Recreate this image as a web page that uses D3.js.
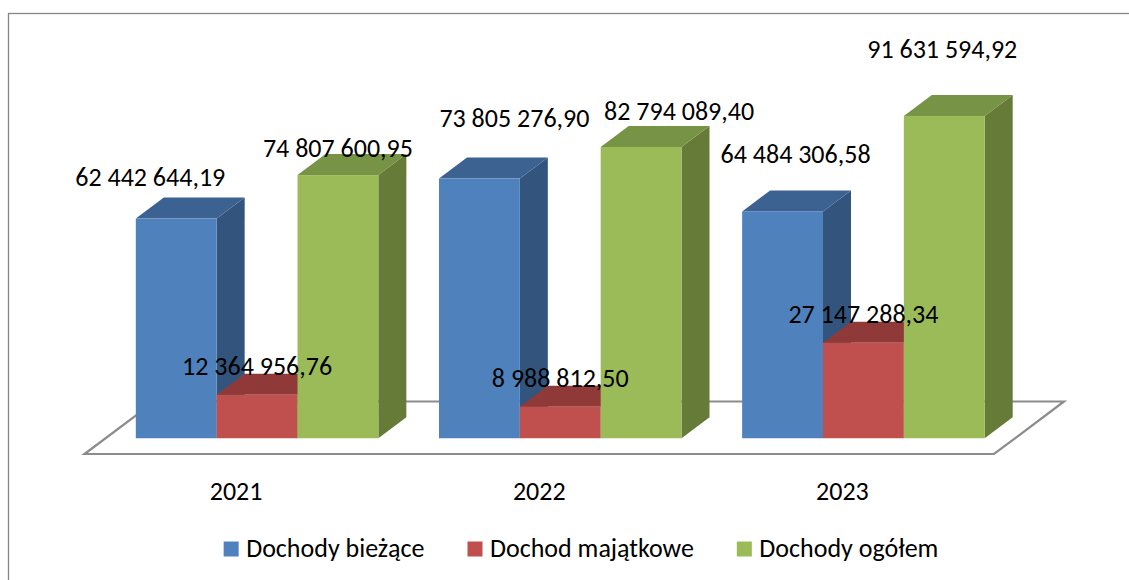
<!DOCTYPE html>
<html>
<head>
<meta charset="utf-8">
<script src="https://cdn.jsdelivr.net/npm/d3@7"></script>
<style>
  body { margin: 0; background: #fff; }
  svg text { font-family: Carlito, Calibri, Lato, sans-serif; fill: #000; }
</style>
</head>
<body>
<svg width="1129" height="580"></svg>
<script>
"use strict";

// data
const years = ["2021", "2022", "2023"];
const seriesNames = ["Dochody bieżące", "Dochod majątkowe", "Dochody ogółem"];
const dochodyBiezace = [62442644.19, 73805276.90, 64484306.58];
const dochodMajatkowe = [12364956.76, 8988812.50, 27147288.34];
const dochodyOgolem = [74807600.95, 82794089.40, 91631594.92];

// colours: front, top, side
const faceColors = [
    ["#4f81bd", "#3c6292", "#33557d"],
    ["#c0504d", "#8f3a38", "#7e3230"],
    ["#9bbb59", "#779345", "#657b37"]
];

// manual nudges of the value labels, the way they were dragged in the original
const labelNudge = [
    [[-26, -13], [35, -32], [13, -28]],
    [[0, 0], [0, 0], [0, 0]],
    [[0, 2], [38, -7], [-2, -38]]
];

const allSeries = [dochodyBiezace, dochodMajatkowe, dochodyOgolem];

let svg = d3.select("svg");
let fontSize = 26;

let plFormat = d3.formatLocale({ decimal: ",", thousands: " ", grouping: [3], currency: ["", ""] }).format(",.2f");

// projected depth of one bar
let depth = { dx: 28, dy: -21 };

// floor front edge
let floorLeft = 84.5, floorRight = 994, floorFront = 454;
let frontGap = 0.75;   // bars sit 0.75 bar-depths behind the floor edge
let floorDepth = 2.5;

// chart border
svg.append("rect")
    .attr("x", 8.5).attr("y", 13.5)
    .attr("width", 1140).attr("height", 600)
    .attr("fill", "none")
    .attr("stroke", "#868686")
    .attr("stroke-width", 1.3);

let baseY = floorFront + frontGap * depth.dy;

let x0 = d3.scaleBand()
    .domain(years)
    .range([floorLeft + frontGap * depth.dx, floorRight + frontGap * depth.dx])
    .paddingInner(0.2)
    .paddingOuter(0.1);

let x1 = d3.scaleBand().domain(seriesNames).range([0, x0.bandwidth()]).padding(0);

let y = d3.scaleLinear().domain([0, 100000000]).range([baseY, baseY - 351.8]);

// floor
let fdx = floorDepth * depth.dx, fdy = floorDepth * depth.dy;
svg.append("path")
    .attr("d", "M" + floorLeft + "," + floorFront +
               "L" + floorRight + "," + floorFront +
               "L" + (floorRight + fdx) + "," + (floorFront + fdy) +
               "L" + (floorLeft + fdx) + "," + (floorFront + fdy) + "Z")
    .attr("fill", "#fff")
    .attr("stroke", "#8c8c8c")
    .attr("stroke-width", 2.2)
    .attr("stroke-linejoin", "miter");

// bars, painted left to right so later fronts hide earlier sides
let bars = [];
years.forEach(function (yr, i) {
    seriesNames.forEach(function (s, j) {
        bars.push({ year: yr, series: s, si: j, yi: i, value: allSeries[j][i] });
    });
});

let barG = svg.append("g").attr("class", "bars");

bars.forEach(function (d) {
    let xl = x0(d.year) + x1(d.series),
        xr = xl + x1.bandwidth(),
        yt = y(d.value),
        yb = y(0),
        c = faceColors[d.si];
    let g = barG.append("g");
    // side
    g.append("path")
        .attr("d", "M" + xr + "," + yt + "L" + (xr + depth.dx) + "," + (yt + depth.dy) +
                   "L" + (xr + depth.dx) + "," + (yb + depth.dy) + "L" + xr + "," + yb + "Z")
        .attr("fill", c[2]);
    // top
    g.append("path")
        .attr("d", "M" + xl + "," + yt + "L" + xr + "," + yt +
                   "L" + (xr + depth.dx) + "," + (yt + depth.dy) + "L" + (xl + depth.dx) + "," + (yt + depth.dy) + "Z")
        .attr("fill", c[1]);
    // front
    g.append("rect")
        .attr("x", xl).attr("y", yt)
        .attr("width", x1.bandwidth()).attr("height", yb - yt)
        .attr("fill", c[0]);
});

// value labels
svg.append("g").attr("class", "labels")
    .selectAll("text")
    .data(bars)
    .enter().append("text")
    .attr("x", function (d) {
        return x0(d.year) + x1(d.series) + x1.bandwidth() / 2 + labelNudge[d.si][d.yi][0];
    })
    .attr("y", function (d) {
        return y(d.value) + depth.dy + 1 + labelNudge[d.si][d.yi][1];
    })
    .attr("text-anchor", "middle")
    .attr("font-size", fontSize)
    .text(function (d) { return plFormat(d.value); });

// category labels along the floor edge
svg.append("g").attr("class", "xaxis")
    .selectAll("text")
    .data(years)
    .enter().append("text")
    .attr("x", function (d) { return x0(d) + x0.bandwidth() / 2 - frontGap * depth.dx; })
    .attr("y", 500)
    .attr("text-anchor", "middle")
    .attr("font-size", fontSize)
    .text(function (d) { return d; });

// legend
let legend = svg.append("g").attr("class", "legend");
let items = legend.selectAll("g").data(seriesNames).enter().append("g");
items.append("rect")
    .attr("width", 15).attr("height", 15)
    .attr("y", 541.5)
    .attr("fill", function (d, i) { return faceColors[i][0]; });
items.append("text")
    .attr("x", 22.5)
    .attr("y", 557)
    .attr("font-size", fontSize)
    .text(function (d) { return d; });

let cursor = 0;
let offsets = [];
items.each(function () {
    let w = this.querySelector("text").getComputedTextLength();
    offsets.push(cursor);
    cursor += 22.5 + w + 43;
});
let total = cursor - 43;
let legendLeft = 581 - total / 2;
items.attr("transform", function (d, i) { return "translate(" + (legendLeft + offsets[i]) + ",0)"; });
</script>
</body>
</html>
